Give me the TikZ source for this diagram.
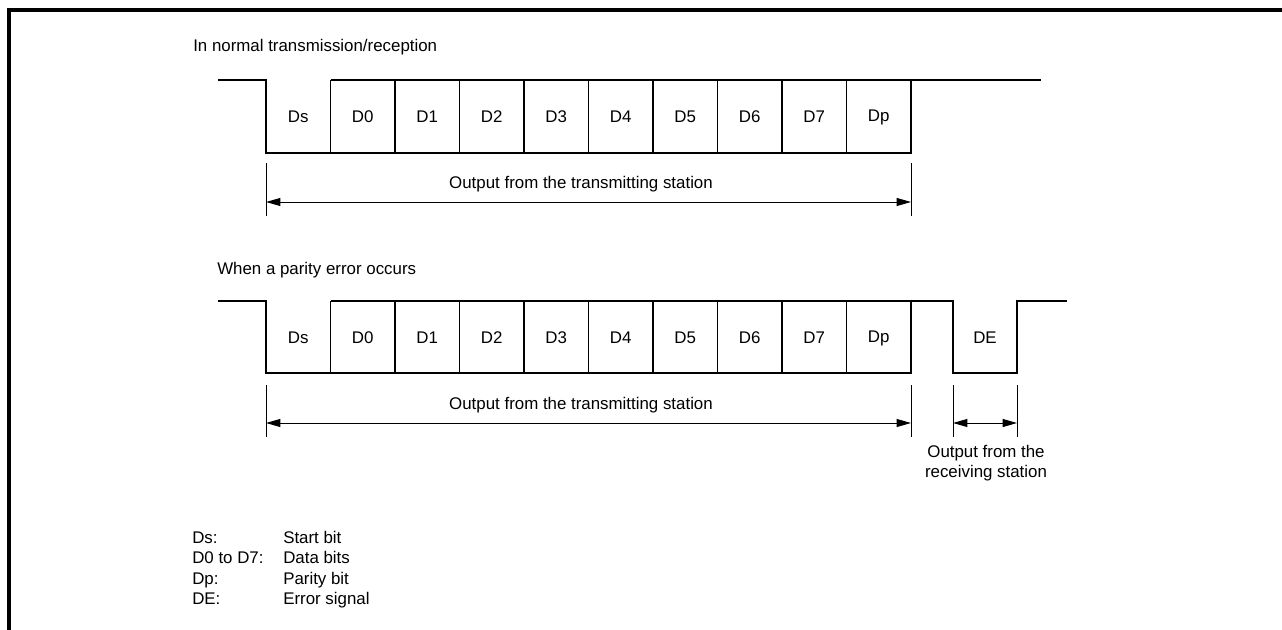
\documentclass[tikz,border=0pt]{standalone}
\usepackage{fontspec}
\setmainfont{Liberation Sans}
\usetikzlibrary{arrows.meta}

\begin{document}
\begin{tikzpicture}[
    x=0.025cm, y=-0.025cm,
    frame/.style={line width=2.4pt},
    wave/.style={line width=1.1pt, line join=miter},
    tickline/.style={line width=0.6pt},
    dimarrow/.style={line width=0.7pt,
                     {Triangle[length=3.6mm,width=2mm]}-{Triangle[length=3.6mm,width=2mm]}},
    txt/.style={font=\fontsize{12}{14.2}\selectfont, inner sep=0pt},
    title/.style={txt, anchor=west},
    legend/.style={txt, anchor=base west},
    bitlbl/.style={txt}
]
\useasboundingbox (0,0) rectangle (1282,630);

% Frame
\draw[frame] (9,630) -- (9,10) -- (1282,10);

% Titles
\node[title] (title1) at (193,47) {In normal transmission/reception};
\node[title] (title2) at (217,270) {When a parity error occurs};

% Normal frame
\draw[wave] (218,80) -- (266,80) -- (266,153) -- (911,153) -- (911,80) -- (1041,80);
\draw[wave] (330.5,80) -- (911,80);
\foreach \i in {1,...,9}
  \draw[wave] ({266+64.5*\i},80) -- ({266+64.5*\i},153);
\foreach \lbl [count=\i from 0] in {Ds,D0,D1,D2,D3,D4,D5,D6,D7,Dp}
  \node[bitlbl] (n\i) at ({298.25+64.5*\i},117) {\lbl};

% Parity error frame
\draw[wave] (218,301) -- (266,301) -- (266,373) -- (911,373) -- (911,301)
            -- (953,301) -- (953,373) -- (1017,373) -- (1017,301) -- (1067,301);
\draw[wave] (330.5,301) -- (911,301);
\foreach \i in {1,...,9}
  \draw[wave] ({266+64.5*\i},301) -- ({266+64.5*\i},373);
\foreach \lbl [count=\i from 0] in {Ds,D0,D1,D2,D3,D4,D5,D6,D7,Dp}
  \node[bitlbl] (p\i) at ({298.25+64.5*\i},338) {\lbl};
\node[bitlbl] (de) at (985,338) {DE};

% Dimension lines
\coordinate (ta) at (266,202);
\coordinate (tb) at (911,202);
\coordinate (pa) at (266,423);
\coordinate (pb) at (911,423);
\coordinate (ra) at (953,423);
\coordinate (rb) at (1017,423);
\foreach \x in {266,911} \draw[tickline] (\x,163) -- (\x,216);
\foreach \x in {266,911,953,1017} \draw[tickline] (\x,385) -- (\x,437);
\draw[dimarrow] (ta) -- (tb);
\draw[dimarrow] (pa) -- (pb);
\draw[dimarrow] (ra) -- (rb);
\node[txt] (tx1) at (581,184) {Output from the transmitting station};
\node[txt] (tx2) at (581,405) {Output from the transmitting station};
\node[txt, align=center] (rx) at (986,463) {Output from the\\receiving station};

% Legend
\foreach \k/\v [count=\j from 0] in {Ds:/Start bit, D0 to D7:/Data bits, Dp:/Parity bit, DE:/Error signal} {
  \node[legend] (key\j) at (192,{543+20.6*\j}) {\k};
  \node[legend] (val\j) at (283,{543+20.6*\j}) {\v};
}
\end{tikzpicture}
\end{document}
